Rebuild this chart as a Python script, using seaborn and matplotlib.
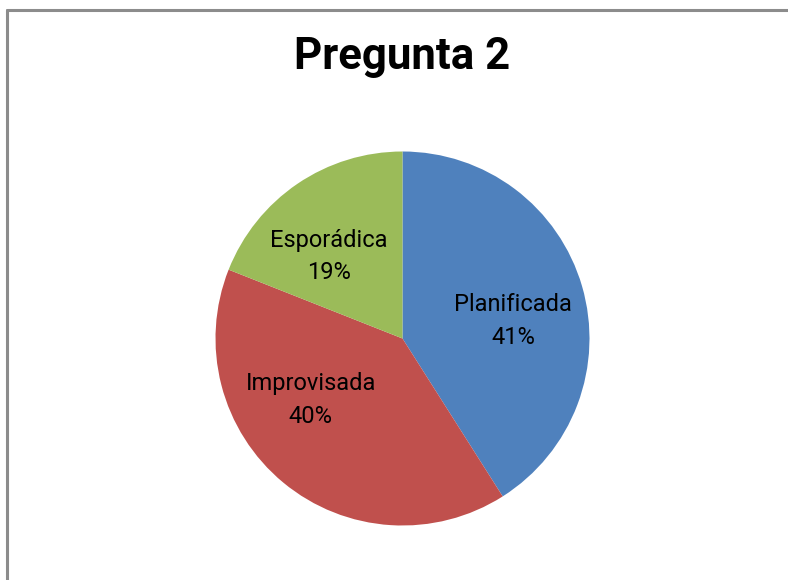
import matplotlib
matplotlib.use("Agg")
import matplotlib.pyplot as plt
import seaborn as sns
import numpy as np
from matplotlib import font_manager

sns.set_theme(style="white")

categories = ["Planificada", "Improvisada", "Esporádica"]
values = [41, 40, 19]
title = "Pregunta 2"

names = {f.name for f in font_manager.fontManager.ttflist}
narrow = "Liberation Sans Narrow" if "Liberation Sans Narrow" in names else "Roboto"
plt.rcParams["font.family"] = [narrow, "DejaVu Sans"]

colors = ["#4F81BD", "#C0504D", "#9BBB59"]

fig = plt.figure(figsize=(7.88, 5.8), dpi=100)
# chart frame (left and top edges visible)
fig.add_artist(plt.Line2D([6.5/788, 6.5/788], [0, 1 - 9.5/580], color="#8c8c8c", lw=2.2,
                          transform=fig.transFigure))
fig.add_artist(plt.Line2D([6.5/788, 1], [1 - 9.5/580, 1 - 9.5/580], color="#8c8c8c", lw=2.2,
                          transform=fig.transFigure))

cx, cy, r = 402.5, 338.5, 187.0
ax = fig.add_axes([(cx - r) / 788, (580 - cy - r) / 580, 2 * r / 788, 2 * r / 580])
labels = [f"{c}\n{v}%" for c, v in zip(categories, values)]
wedges, texts = ax.pie(values, colors=colors, startangle=90, counterclock=False,
                       labels=labels, labeldistance=0.6,
                       wedgeprops=dict(linewidth=0),
                       textprops=dict(fontsize=17, color="black", ha="center", va="center",
                                      linespacing=1.55))
# label placement as in the Excel original
label_angles = [9, 213.9, 132]
label_radii = [0.60, 0.59, 0.59]
for t, a, rr in zip(texts, label_angles, label_radii):
    t.set_position((rr * np.cos(np.radians(a)), rr * np.sin(np.radians(a))))
    t.set_horizontalalignment("center")
ax.set_xlim(-1, 1)
ax.set_ylim(-1, 1)
ax.set_aspect("auto")
ax.axis("off")

fig.text(402 / 788, 1 - 57 / 580, title, ha="center", va="center", fontsize=31.5,
         fontweight="bold", color="black")

fig.savefig("out.png", dpi=100, facecolor="white")
